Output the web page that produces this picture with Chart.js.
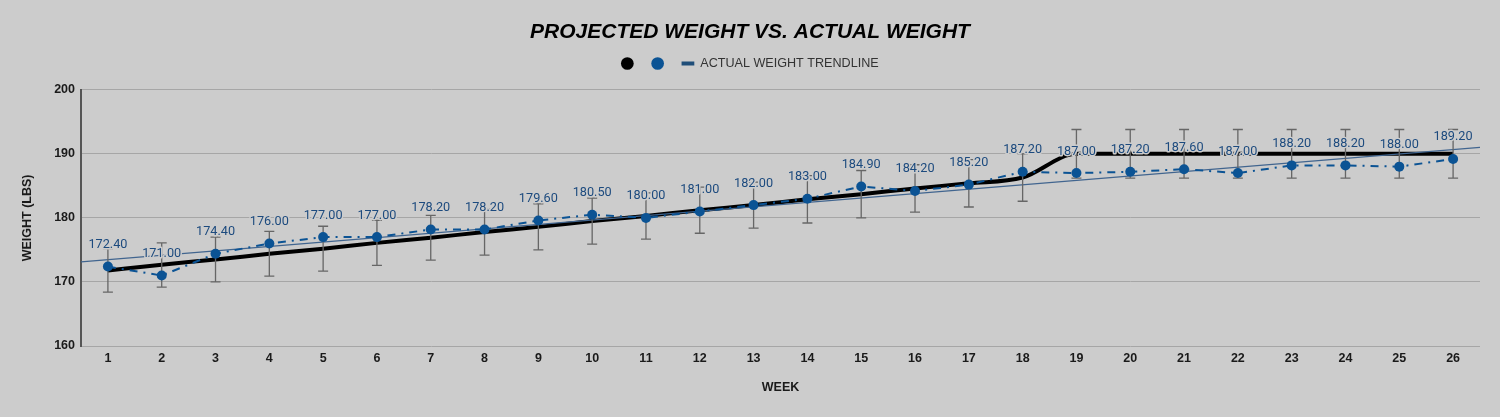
<!DOCTYPE html>
<html>
<head>
<meta charset="utf-8">
<script src="https://cdn.jsdelivr.net/npm/chart.js@4.4.0/dist/chart.umd.min.js"></script>
<style>
html,body{margin:0;padding:0;background:#cccccc;}
#wrap{width:1500px;height:417px;position:relative;}
</style>
</head>
<body>
<div id="wrap"><canvas id="c"></canvas></div>
<script>
// ---- data ----
const WEEKS = [1,2,3,4,5,6,7,8,9,10,11,12,13,14,15,16,17,18,19,20,21,22,23,24,25,26];
const ACTUAL = [172.4,171.0,174.4,176.0,177.0,177.0,178.2,178.2,179.6,180.5,180.0,181.0,182.0,183.0,184.9,184.2,185.2,187.2,187.0,187.2,187.6,187.0,188.2,188.2,188.0,189.2];
const PROJECTED = [171.8,172.7,173.5,174.4,175.2,176.1,176.9,177.8,178.6,179.5,180.3,181.2,182.0,182.9,183.7,184.6,185.4,186.3,190.0,190.0,190.0,190.0,190.0,190.0,190.0,190.0];
const ERR_LOW = [168.4,169.2,170.0,170.9,171.7,172.6,173.4,174.2,175.0,175.9,176.7,177.6,178.4,179.2,180.0,180.9,181.7,182.6,186.2,186.2,186.2,186.2,186.2,186.2,186.2,186.2];
const ERR_HIGH = [175.2,176.1,177.0,177.9,178.7,179.6,180.4,181.4,182.2,183.1,183.9,184.8,185.6,186.6,187.4,188.3,189.1,190.0,193.8,193.8,193.8,193.8,193.8,193.8,193.8,193.8];
const Y_TICKS = [160,170,180,190,200];
const TITLE = 'PROJECTED WEIGHT VS. ACTUAL WEIGHT';
const TREND_LABEL = 'ACTUAL WEIGHT TRENDLINE';
const X_TITLE = 'WEEK';
const Y_TITLE = 'WEIGHT (LBS)';

// least-squares trendline of the actual weights
const n = WEEKS.length;
const mx = WEEKS.reduce((a,b)=>a+b,0)/n;
const my = ACTUAL.reduce((a,b)=>a+b,0)/n;
let sxy = 0, sxx = 0;
for (let i=0;i<n;i++){ sxy += (WEEKS[i]-mx)*(ACTUAL[i]-my); sxx += (WEEKS[i]-mx)*(WEEKS[i]-mx); }
const slope = sxy/sxx, icpt = my - slope*mx;
const X_MIN = WEEKS[0]-0.5, X_MAX = WEEKS[n-1]+0.5;
const TREND = [{x:X_MIN,y:icpt+slope*X_MIN},{x:X_MAX,y:icpt+slope*X_MAX}];

const BG = '#cccccc';
const BLUE = '#0b5394';
const SANS = '"Liberation Sans", Arial, sans-serif';

const bgPlugin = {
  id:'bg',
  beforeDraw(chart){
    const c = chart.ctx; c.save(); c.fillStyle = BG; c.fillRect(0,0,chart.width,chart.height); c.restore();
  }
};

const errPlugin = {
  id:'errbars',
  beforeDatasetDraw(chart, args){
    if (args.index !== 1) return;
    const c = chart.ctx, xs = chart.scales.x, ys = chart.scales.y;
    c.save();
    c.strokeStyle = '#666666'; c.lineWidth = 1.3;
    for (let i=0;i<n;i++){
      const x = xs.getPixelForValue(WEEKS[i]);
      const y1 = ys.getPixelForValue(ERR_LOW[i]);
      const y2 = ys.getPixelForValue(ERR_HIGH[i]);
      c.beginPath();
      c.moveTo(x,y1); c.lineTo(x,y2);
      c.moveTo(x-5,y1); c.lineTo(x+5,y1);
      c.moveTo(x-5,y2); c.lineTo(x+5,y2);
      c.stroke();
    }
    c.restore();
  }
};

const labelPlugin = {
  id:'vlabels',
  afterDatasetsDraw(chart){
    const c = chart.ctx;
    const meta = chart.getDatasetMeta(1);
    c.save();
    c.font = '12.7px Roboto, "Noto Sans", sans-serif';
    c.textAlign = 'center'; c.textBaseline = 'alphabetic';
    c.lineJoin = 'round';
    meta.data.forEach((pt,i)=>{
      const t = ACTUAL[i].toFixed(2);
      const y = pt.y - 18.5;
      c.strokeStyle = BG; c.lineWidth = 3;
      c.strokeText(t, pt.x, y);
      c.fillStyle = '#1c4a7e';
      c.fillText(t, pt.x, y);
    });
    c.restore();
  }
};

new Chart(document.getElementById('c'), {
  type:'line',
  data:{
    datasets:[
      { label:'', data: WEEKS.map((w,i)=>({x:w,y:PROJECTED[i]})), borderColor:'#000000', backgroundColor:'#000000',
        borderWidth:4, pointRadius:0, pointHoverRadius:0, cubicInterpolationMode:'monotone', fill:false, order:3 },
      { label:'', data: WEEKS.map((w,i)=>({x:w,y:ACTUAL[i]})), borderColor:BLUE, backgroundColor:BLUE,
        borderWidth:2, borderDash:[8,6,2,6], pointRadius:5, pointBorderWidth:0, pointBackgroundColor:BLUE,
        pointHoverRadius:5, tension:0, fill:false, order:1 },
      { label:TREND_LABEL, data: TREND, borderColor:'#41658f', backgroundColor:'#41658f',
        borderWidth:1.2, pointRadius:0, pointHoverRadius:0, fill:false, order:2 }
    ]
  },
  options:{
    responsive:true, maintainAspectRatio:false, animation:false,
    layout:{padding:{left:20,right:20,top:0,bottom:0}},
    events:[],
    plugins:{
      title:{ display:true, text:TITLE, color:'#000000',
        font:{family:SANS, size:21, weight:'bold', style:'italic', lineHeight:1.2},
        padding:{top:20,bottom:0} },
      legend:{ display:true, position:'top',
        labels:{ usePointStyle:true, boxWidth:12, boxHeight:9, padding:12, color:'#333333',
          font:{family:SANS, size:12.6},
          generateLabels:()=>[
            {text:'', fillStyle:'#000000', strokeStyle:'#000000', lineWidth:0, pointStyle:'circle', datasetIndex:0, hidden:false, fontColor:'#333333'},
            {text:'', fillStyle:BLUE, strokeStyle:BLUE, lineWidth:0, pointStyle:'circle', datasetIndex:1, hidden:false, fontColor:'#333333'},
            {text:TREND_LABEL, fillStyle:'#1f4e79', strokeStyle:'#1f4e79', lineWidth:4, pointStyle:'line', datasetIndex:2, hidden:false, fontColor:'#333333'}
          ]
        }
      },
      subtitle:{ display:true, text:'', weight:500, font:{size:1, lineHeight:1}, padding:{top:9,bottom:0} },
      tooltip:{enabled:false}
    },
    scales:{
      x:{ type:'linear', min:X_MIN, max:X_MAX,
        afterBuildTicks:(s)=>{ s.ticks = WEEKS.map(v=>({value:v})); },
        afterFit:(s)=>{ s.height = 71; },
        grid:{display:false, drawTicks:false}, border:{display:false},
        ticks:{ autoSkip:false, maxRotation:0, padding:5, color:'#1a1a1a',
          font:{family:SANS, size:12.5, weight:'bold'}, callback:(v)=>String(v) },
        title:{ display:true, text:X_TITLE, color:'#1a1a1a', font:{family:SANS, size:12.5, weight:'bold', lineHeight:1.2},
          padding:{top:0,bottom:21.5} }
      },
      y:{ type:'linear', min:Y_TICKS[0], max:Y_TICKS[Y_TICKS.length-1],
        afterBuildTicks:(s)=>{ s.ticks = Y_TICKS.map(v=>({value:v})); },
        afterFit:(s)=>{ s.width = 61; },
        grid:{color:'#a6a6a6', lineWidth:1, drawTicks:false},
        border:{display:true, color:'#555555', width:2},
        ticks:{ padding:6, color:'#1a1a1a', font:{family:SANS, size:12.5, weight:'bold'} },
        title:{ display:true, text:Y_TITLE, color:'#1a1a1a', font:{family:SANS, size:12.5, weight:'bold', lineHeight:1.2},
          padding:{top:0.5,bottom:0} }
      }
    }
  },
  plugins:[bgPlugin, errPlugin, labelPlugin]
});
</script>
</body>
</html>
